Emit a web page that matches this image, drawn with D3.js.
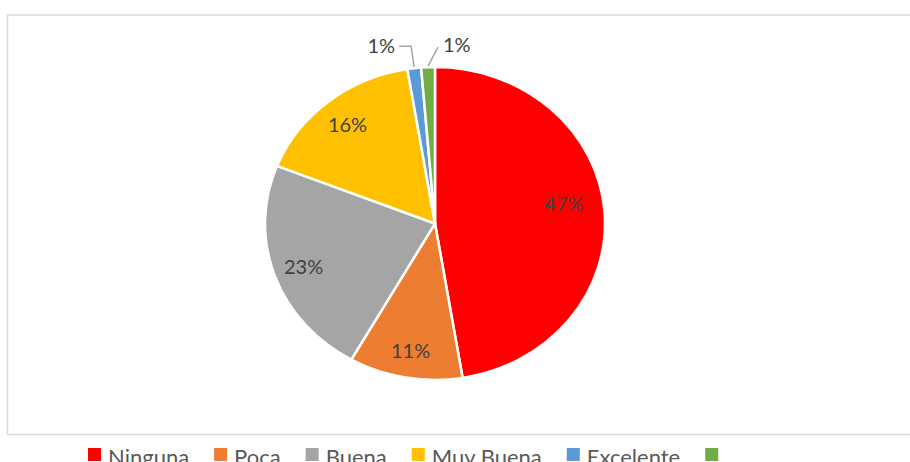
<!DOCTYPE html>
<html>
<head>
<meta charset="utf-8">
<script src="https://cdn.jsdelivr.net/npm/d3@7"></script>
<style>
  html, body { margin: 0; padding: 0; background: #fff; overflow: hidden; }
  svg { display: block; }
</style>
</head>
<body>
<div id="chart"></div>
<script>
// data
var categories = ["Ninguna", "Poca", "Buena", "Muy Buena", "Excelente", ""];
var values = [47.4, 10.8, 22.8, 16.4, 1.3, 1.3];
var labels = ["47%", "11%", "23%", "16%", "1%", "1%"];
var colors = ["#FF0000", "#ED7D31", "#A5A5A5", "#FFC000", "#5B9BD5", "#70AD47"];

var width = 910, height = 462,
    cx = 435, cy = 223.5,
    radius = 156.5,
    stretch = 1.086,      // the picture is a bit wider than tall
    labelFrac = 0.82;

var svg = d3.select("#chart").append("svg")
    .attr("width", width)
    .attr("height", height);

// chart area border
svg.append("rect")
    .attr("x", 7.5).attr("y", 15)
    .attr("width", 920).attr("height", 419.5)
    .attr("fill", "none")
    .attr("stroke", "#d9d9d9")
    .attr("stroke-width", 1.5);

var data = categories.map(function(c, i){
    return {name: c, value: values[i], label: labels[i], color: colors[i]};
});

var pie = d3.pie().sort(null).value(function(d){ return d.value; });
var arcs = pie(data);

var arc = d3.arc().innerRadius(0).outerRadius(radius);
var labelArc = d3.arc().innerRadius(radius * labelFrac).outerRadius(radius * labelFrac);
var edgeArc = d3.arc().innerRadius(radius + 1).outerRadius(radius + 1);

var g = svg.append("g")
    .attr("transform", "translate(" + cx + "," + cy + ") scale(" + stretch + ",1)");

g.selectAll("path.slice")
    .data(arcs)
    .enter().append("path")
    .attr("class", "slice")
    .attr("d", arc)
    .attr("fill", function(d){ return d.data.color; })
    .attr("stroke", "#fff")
    .attr("stroke-width", 2.5)
    .attr("vector-effect", "non-scaling-stroke");

function toScreen(p){ return [cx + p[0] * stretch, cy + p[1]]; }

var labelFont = "Lato, 'Open Sans', sans-serif";

// inside labels (the big slice's label sits a little further in, as in the original)
arcs.forEach(function(d, i){
    if (d.data.value < 5) return;
    var p = toScreen(labelArc.centroid(d));
    if (i === 0) { p[0] -= 10; p[1] -= 10; }
    svg.append("text")
        .attr("x", p[0]).attr("y", p[1])
        .attr("text-anchor", "middle")
        .attr("dominant-baseline", "central")
        .style("font-family", labelFont)
        .style("font-size", "20px")
        .style("fill", "#404040")
        .text(d.data.label);
});

// outside labels with leader lines for the tiny slices
var small = arcs.filter(function(d){ return d.data.value < 5; });
small.forEach(function(d, i){
    var p = toScreen(edgeArc.centroid(d));
    var pts, tx, anchor;
    if (i === 0) {
        pts = [p, [p[0] - 3, p[1] - 21], [p[0] - 15, p[1] - 21]];
        tx = p[0] - 19; anchor = "end";
    } else {
        pts = [p, [p[0] + 10, p[1] - 19]];
        tx = p[0] + 15; anchor = "start";
    }
    svg.append("path")
        .attr("d", d3.line()(pts))
        .attr("fill", "none")
        .attr("stroke", "#a6a6a6")
        .attr("stroke-width", 1.5);
    svg.append("text")
        .attr("x", tx).attr("y", p[1] - 22)
        .attr("text-anchor", anchor)
        .attr("dominant-baseline", "central")
        .style("font-family", labelFont)
        .style("font-size", "20px")
        .style("fill", "#404040")
        .text(d.data.label);
});

// legend along the bottom
var legend = svg.append("g").attr("transform", "translate(88,0)");
var lx = 0;
data.forEach(function(d){
    legend.append("rect")
        .attr("x", lx).attr("y", 448)
        .attr("width", 13).attr("height", 13)
        .attr("fill", d.color);
    var t = legend.append("text")
        .attr("x", lx + 20).attr("y", 465)
        .style("font-family", labelFont)
        .style("font-size", "22px")
        .style("fill", "#595959")
        .text(d.name);
    var w = d.name ? t.node().getComputedTextLength() : 0;
    lx += 20 + w + 25;
});
</script>
</body>
</html>
